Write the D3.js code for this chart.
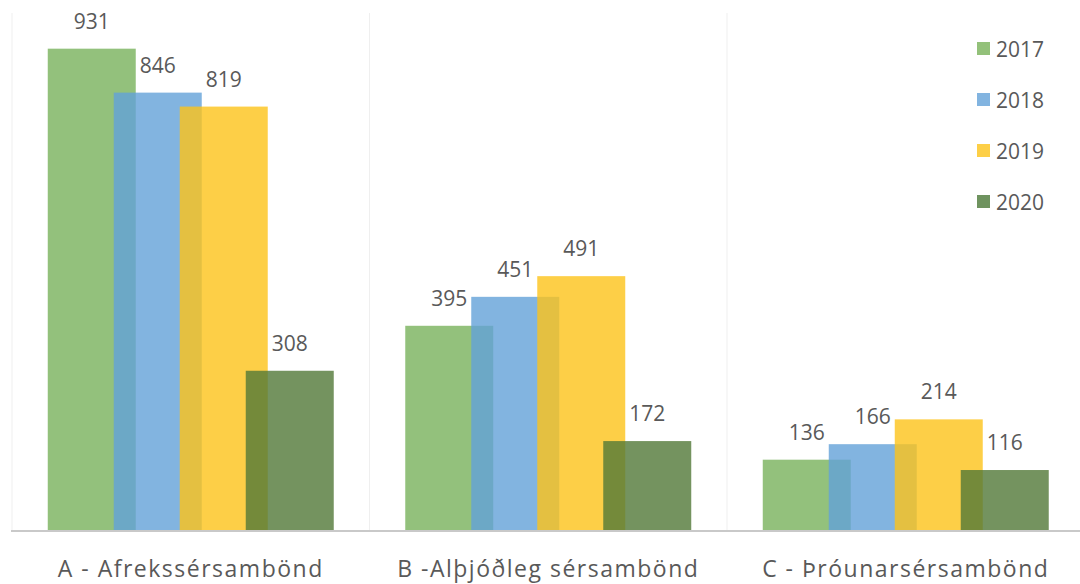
<!DOCTYPE html>
<html><head><meta charset="utf-8">
<script src="https://cdn.jsdelivr.net/npm/d3@7"></script>
<style>body{margin:0;background:#fff}svg{display:block}text{font-family:"Open Sans",sans-serif;fill:#595959}</style>
</head><body><svg id="c" width="1080" height="584"></svg>
<script>
const categories = ["A - Afrekssérsambönd", "B -Alþjóðleg sérsambönd", "C - Þróunarsérsambönd"];
const years = ["2017", "2018", "2019", "2020"];
const values2017 = [931, 395, 136];
const values2018 = [846, 451, 166];
const values2019 = [819, 491, 214];
const values2020 = [308, 172, 116];
const series = [values2017, values2018, values2019, values2020];
const colors = ["rgba(120,178,91,0.8)", "rgba(99,161,216,0.8)", "rgba(252,195,25,0.8)", "rgba(81,120,55,0.8)"];
const legendColors = ["#93c17a", "#82b4e0", "#fdcf47", "#6f935f"];

const svg = d3.select("#c");
const y = d3.scaleLinear().domain([0, 1000]).range([530, 13]);
const x = d3.scaleBand().domain(categories).range([12, 1084.5]);
const inner = d3.scalePoint().domain(years).range([-99, 99]);
const barW = 88;

// separators
svg.append("g").selectAll("line").data(categories).join("line")
  .attr("x1", d => x(d)).attr("x2", d => x(d))
  .attr("y1", y(1000)).attr("y2", y(0))
  .attr("stroke", "#efefef").attr("stroke-width", 1);

// bars
years.forEach((yr, i) => {
  const g = svg.append("g");
  g.selectAll("rect").data(categories).join("rect")
    .attr("x", (c) => x(c) + x.bandwidth() / 2 + inner(yr) - barW / 2)
    .attr("width", barW)
    .attr("y", (c, j) => y(series[i][j]))
    .attr("height", (c, j) => y(0) - y(series[i][j]))
    .attr("fill", colors[i]);
});
// labels
years.forEach((yr, i) => {
  svg.append("g").selectAll("text").data(categories).join("text")
    .attr("x", (c) => x(c) + x.bandwidth() / 2 + inner(yr))
    .attr("y", (c, j) => y(series[i][j]) - 20)
    .attr("text-anchor", "middle")
    .attr("font-size", 21)
    .text((c, j) => series[i][j]);
});

// baseline
svg.append("line").attr("x1", 11).attr("x2", 1080).attr("y1", y(0) + 1).attr("y2", y(0) + 1)
  .attr("stroke", "#c9c9c9").attr("stroke-width", 2);

// category axis
const xAxis = svg.append("g").attr("transform", `translate(0,${y(0)})`)
  .call(d3.axisBottom(x).tickSize(0).tickPadding(0));
xAxis.select(".domain").remove();
xAxis.selectAll("text").attr("dy", null).attr("y", 47).attr("font-size", 23)
  .attr("letter-spacing", 1.5)
  .style("font-family", "'Open Sans',sans-serif").attr("fill", "#595959");

// legend
const lg = svg.append("g");
years.forEach((yr, i) => {
  const yy = 49 + i * 51;
  lg.append("rect").attr("x", 977).attr("y", yy - 7).attr("width", 13).attr("height", 13).attr("fill", legendColors[i]);
  lg.append("text").attr("x", 996).attr("y", yy + 8).attr("font-size", 21).text(yr);
});
</script></body></html>
